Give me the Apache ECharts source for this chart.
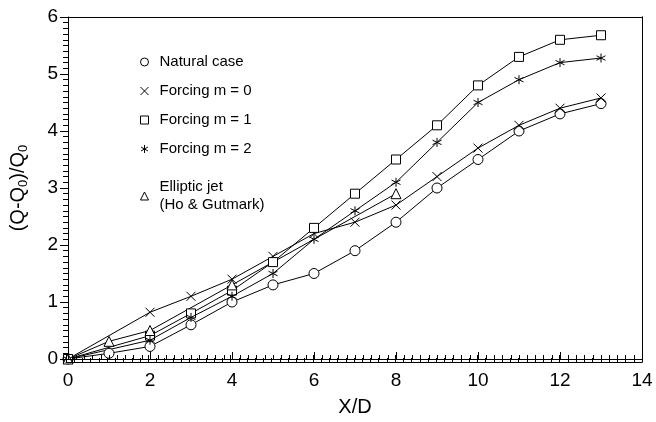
<!DOCTYPE html>
<html>
<head>
<meta charset="utf-8">
<script src="https://cdn.jsdelivr.net/npm/echarts@6/dist/echarts.min.js"></script>
<style>
  html, body { margin: 0; padding: 0; background: #fff; }
  #chart { width: 656px; height: 422px; }
</style>
</head>
<body>
<div id="chart"></div>
<script>
// values
var xNat = [0, 1, 2, 3, 4, 5, 6, 7, 8, 9, 10, 11, 12, 13];
var natural = [0, 0.1, 0.22, 0.6, 1.0, 1.3, 1.5, 1.9, 2.4, 3.0, 3.5, 4.0, 4.3, 4.48];
var xForce = [0, 2, 3, 4, 5, 6, 7, 8, 9, 10, 11, 12, 13];
var m0 = [0, 0.82, 1.1, 1.4, 1.8, 2.2, 2.4, 2.7, 3.2, 3.7, 4.1, 4.4, 4.58];
var m1 = [0, 0.41, 0.8, 1.2, 1.7, 2.3, 2.9, 3.5, 4.1, 4.8, 5.3, 5.6, 5.68];
var m2 = [0, 0.33, 0.73, 1.1, 1.5, 2.1, 2.6, 3.1, 3.8, 4.5, 4.9, 5.2, 5.28];
var xEll = [0, 1, 2, 4, 8];
var elliptic = [0, 0.31, 0.5, 1.3, 2.9];

var names = ['Natural case', 'Forcing m=0', 'Forcing m=1', 'Forcing m=2', 'Elliptic jet'];
var legendLabels = ['Natural case', 'Forcing m = 0', 'Forcing m = 1', 'Forcing m = 2', 'Elliptic jet\n(Ho & Gutmark)'];

var crossPath = 'path://M0,0L10,10M10,0L0,10';
var starPath = 'path://M5,0L5,10M0.7,2.5L9.3,7.5M0.7,7.5L9.3,2.5';

function pairs(xs, ys) {
    return xs.map(function (x, i) { return [x, ys[i]]; });
}

var font = 'Liberation Sans, Arial, sans-serif';
var box = { left: 66, right: 14, top: 17, bottom: 60 };

function mkSeries(name, xs, ys, symbol, size, fill) {
    return {
        name: name,
        type: 'line',
        data: pairs(xs, ys),
        symbol: symbol,
        symbolSize: size,
        showAllSymbol: true,
        lineStyle: { color: '#000', width: 1 },
        itemStyle: { color: fill, borderColor: '#000', borderWidth: 1 },
        emphasis: { disabled: true },
        z: 2
    };
}

// frame lines (top / right), no ticks
function frameAxis(max, pos, grid) {
    return {
        type: 'value', min: 0, max: max, position: pos, gridIndex: grid,
        z: 10,
        axisLine: { show: true, onZero: false, lineStyle: { color: '#000', width: 1 } },
        axisTick: { show: false },
        axisLabel: { show: false },
        splitLine: { show: false }
    };
}

var option = {
    animation: false,
    backgroundColor: '#fff',
    grid: [
        { left: box.left, right: box.right, top: box.top, bottom: box.bottom },
        { left: box.left, right: box.right, top: box.top, bottom: box.bottom }
    ],
    legend: {
        orient: 'vertical',
        left: 133,
        top: 48,
        itemWidth: 8,
        itemHeight: 8,
        itemGap: 11,
        selectedMode: false,
        formatter: function (n) { return legendLabels[names.indexOf(n)]; },
        textStyle: { fontFamily: font, fontSize: 15, color: '#000', lineHeight: 18, padding: [0, 0, 0, 6] },
        data: [
            { name: names[0], icon: 'circle', itemStyle: { color: '#fff', borderColor: '#000', borderWidth: 1 } },
            { name: names[1], icon: crossPath, itemStyle: { color: 'none', borderColor: '#000', borderWidth: 1 } },
            { name: names[2], icon: 'rect', itemStyle: { color: '#fff', borderColor: '#000', borderWidth: 1 } },
            { name: names[3], icon: starPath, itemStyle: { color: 'none', borderColor: '#000', borderWidth: 1 } },
            { name: names[4], icon: 'triangle', itemStyle: { color: '#fff', borderColor: '#000', borderWidth: 1 },
              textStyle: { padding: [18, 0, 0, 6] } }
        ]
    },
    xAxis: [{
        type: 'value',
        gridIndex: 0,
        min: 0, max: 14, interval: 2,
        position: 'bottom',
        z: 10,
        name: 'X/D',
        nameLocation: 'middle',
        nameGap: 38,
        nameTextStyle: { fontFamily: font, fontSize: 20, color: '#000' },
        axisLine: { show: true, onZero: false, lineStyle: { color: '#000', width: 1 } },
        axisTick: { show: true, inside: true, length: 7, lineStyle: { color: '#000', width: 1 } },
        minorTick: { show: true, splitNumber: 10, length: 4, lineStyle: { color: '#000', width: 1 } },
        axisLabel: { margin: 12, fontFamily: font, fontSize: 19, color: '#000' },
        splitLine: { show: false }
    }, frameAxis(14, 'top', 0), {
        // tick-only copy of the x axis on an overlapping grid
        type: 'value',
        gridIndex: 1,
        min: 0, max: 14, interval: 2,
        position: 'bottom',
        z: 10,
        axisLine: { show: true, onZero: false, lineStyle: { color: '#000', width: 1 } },
        axisTick: { show: true, inside: true, length: 7, lineStyle: { color: '#000', width: 1 } },
        minorTick: { show: true, splitNumber: 10, length: 4, lineStyle: { color: '#000', width: 1 } },
        axisLabel: { show: false },
        splitLine: { show: false }
    }],
    yAxis: [{
        type: 'value',
        gridIndex: 0,
        min: 0, max: 6, interval: 1,
        position: 'left',
        z: 10,
        name: '{m|(Q-Q}{s|0}{m|)/Q}{s|0}',
        nameLocation: 'middle',
        nameGap: 38,
        nameTextStyle: {
            fontFamily: font, fontSize: 20, color: '#000',
            rich: {
                m: { fontFamily: font, fontSize: 20, lineHeight: 24, color: '#000' },
                s: { fontFamily: font, fontSize: 13, lineHeight: 10, verticalAlign: 'bottom', color: '#000' }
            }
        },
        axisLine: { show: true, onZero: false, lineStyle: { color: '#000', width: 1 } },
        axisTick: { show: true, inside: false, length: 8, lineStyle: { color: '#000', width: 1 } },
        minorTick: { show: true, splitNumber: 10, length: 5, lineStyle: { color: '#000', width: 1 } },
        axisLabel: { margin: 10, fontFamily: font, fontSize: 19, color: '#000' },
        splitLine: { show: false }
    }, frameAxis(6, 'right', 0), frameAxis(6, 'right', 1)],
    series: [
        mkSeries(names[0], xNat, natural, 'circle', 10, '#fff'),
        mkSeries(names[1], xForce, m0, crossPath, 9, 'none'),
        mkSeries(names[2], xForce, m1, 'rect', 9, '#fff'),
        mkSeries(names[3], xForce, m2, starPath, 9, 'none'),
        mkSeries(names[4], xEll, elliptic, 'triangle', 10, '#fff')
    ]
};

var myChart = echarts.init(document.getElementById('chart'), null, { renderer: 'canvas' });
myChart.setOption(option);
</script>
</body>
</html>
